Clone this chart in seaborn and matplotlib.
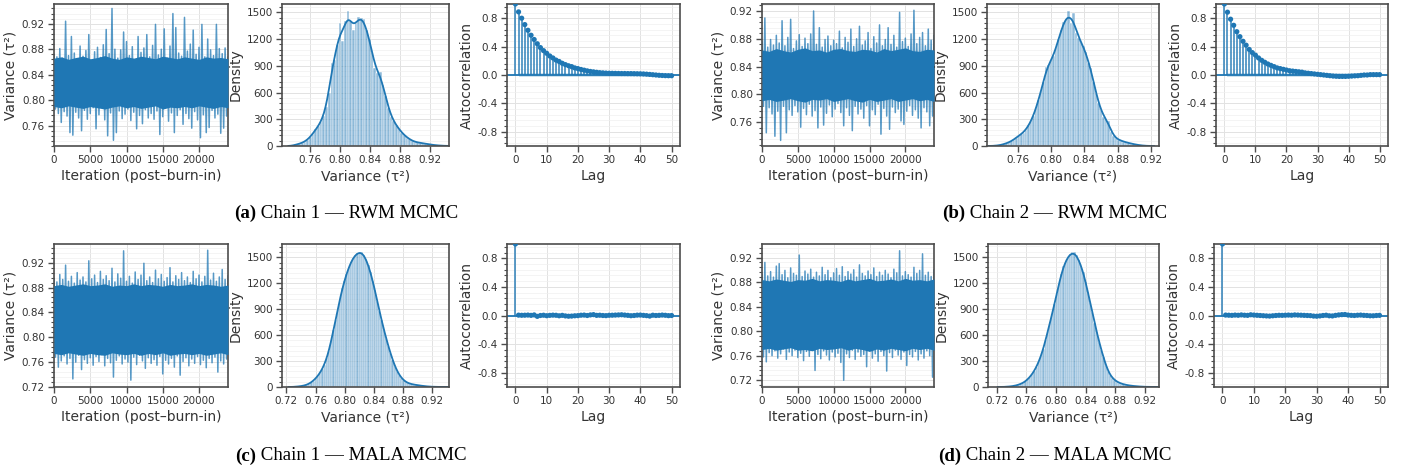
import numpy as np
import pandas as pd
import matplotlib
matplotlib.use("Agg")
import matplotlib.pyplot as plt
from matplotlib.ticker import MultipleLocator, AutoMinorLocator, FormatStrFormatter
import seaborn as sns

# ---------------- data ----------------
iter_step = 200
n_iter = 24000
core_step = 1000

trace_a = [0.872,0.786,0.868,0.779,0.881,0.765,0.866,0.782,0.924,0.775,
           0.870,0.749,0.900,0.745,0.874,0.781,0.864,0.772,0.885,0.752,
           0.869,0.784,0.878,0.770,0.903,0.779,0.861,0.788,0.876,0.755,
           0.883,0.777,0.867,0.790,0.887,0.769,0.911,0.744,0.873,0.780,
           0.944,0.737,0.880,0.749,0.866,0.783,0.879,0.771,0.907,0.778,
           0.892,0.786,0.870,0.768,0.884,0.781,0.863,0.755,0.900,0.776,
           0.875,0.763,0.882,0.785,0.903,0.772,0.868,0.779,0.886,0.770,
           0.919,0.783,0.871,0.746,0.880,0.774,0.912,0.788,0.866,0.767,
           0.885,0.780,0.936,0.749,0.914,0.776,0.874,0.785,0.869,0.762,
           0.930,0.779,0.877,0.771,0.888,0.756,0.910,0.782,0.872,0.769,
           0.883,0.741,0.919,0.777,0.868,0.749,0.896,0.757,0.879,0.784,
           0.870,0.772,0.919,0.778,0.881,0.748,0.873,0.756,0.882,0.775,
           0.868]
trace_b = [0.876,0.783,0.910,0.745,0.868,0.781,0.879,0.772,0.871,0.740,
           0.885,0.776,0.874,0.734,0.906,0.783,0.870,0.745,0.882,0.778,
           0.908,0.770,0.866,0.784,0.877,0.775,0.886,0.753,0.869,0.780,
           0.881,0.771,0.873,0.786,0.887,0.769,0.920,0.777,0.872,0.752,
           0.896,0.782,0.868,0.756,0.879,0.773,0.884,0.785,0.870,0.768,
           0.878,0.779,0.873,0.787,0.891,0.774,0.867,0.755,0.882,0.781,
           0.875,0.770,0.894,0.748,0.869,0.783,0.880,0.772,0.898,0.779,
           0.871,0.766,0.877,0.784,0.889,0.755,0.866,0.778,0.883,0.771,
           0.874,0.786,0.900,0.743,0.870,0.780,0.879,0.769,0.896,0.750,
           0.872,0.782,0.885,0.774,0.868,0.779,0.918,0.762,0.876,0.757,
           0.881,0.776,0.869,0.784,0.887,0.770,0.921,0.778,0.873,0.766,
           0.882,0.752,0.889,0.781,0.870,0.775,0.894,0.755,0.878,0.769,
           0.885]
trace_c = [0.895,0.768,0.889,0.752,0.901,0.762,0.893,0.770,0.916,0.757,
           0.890,0.766,0.898,0.733,0.887,0.760,0.904,0.771,0.892,0.748,
           0.897,0.764,0.889,0.758,0.923,0.767,0.894,0.755,0.900,0.769,
           0.888,0.761,0.906,0.772,0.893,0.754,0.899,0.766,0.891,0.759,
           0.911,0.736,0.889,0.763,0.902,0.770,0.895,0.757,0.939,0.765,
           0.890,0.760,0.898,0.731,0.887,0.768,0.905,0.756,0.893,0.771,
           0.900,0.762,0.919,0.750,0.891,0.767,0.897,0.758,0.888,0.764,
           0.908,0.755,0.894,0.769,0.901,0.741,0.890,0.763,0.896,0.757,
           0.912,0.766,0.889,0.752,0.899,0.770,0.893,0.739,0.904,0.761,
           0.891,0.767,0.897,0.754,0.888,0.765,0.906,0.758,0.894,0.769,
           0.900,0.756,0.889,0.763,0.898,0.751,0.940,0.766,0.892,0.759,
           0.903,0.768,0.890,0.744,0.897,0.762,0.909,0.757,0.893,0.765,
           0.899]
trace_d = [0.893,0.758,0.912,0.750,0.890,0.765,0.897,0.760,0.888,0.768,
           0.906,0.756,0.910,0.763,0.892,0.771,0.899,0.754,0.887,0.766,
           0.903,0.760,0.894,0.769,0.891,0.757,0.924,0.764,0.889,0.752,
           0.898,0.767,0.893,0.759,0.901,0.770,0.888,0.736,0.896,0.762,
           0.890,0.755,0.904,0.768,0.892,0.761,0.899,0.753,0.887,0.766,
           0.895,0.758,0.902,0.764,0.891,0.749,0.905,0.720,0.889,0.763,
           0.897,0.757,0.893,0.769,0.900,0.754,0.888,0.766,0.908,0.759,
           0.894,0.762,0.890,0.742,0.898,0.768,0.892,0.756,0.903,0.763,
           0.889,0.751,0.896,0.767,0.891,0.760,0.899,0.735,0.893,0.765,
           0.887,0.757,0.901,0.769,0.895,0.761,0.931,0.754,0.890,0.766,
           0.897,0.744,0.892,0.762,0.888,0.758,0.904,0.767,0.894,0.753,
           0.899,0.763,0.926,0.756,0.891,0.768,0.896,0.760,0.889,0.725,
           0.900]

# dense central band of each trace (read every 1000 iterations)
core_a_hi = [0.866,0.868,0.864,0.867,0.869,0.865,0.867,0.870,0.866,0.864,0.868,0.866,0.869,
             0.867,0.865,0.869,0.867,0.865,0.868,0.866,0.864,0.868,0.866,0.867,0.865]
core_a_lo = [0.790,0.788,0.791,0.789,0.787,0.790,0.788,0.786,0.789,0.791,0.788,0.790,0.787,
             0.789,0.791,0.786,0.789,0.788,0.790,0.788,0.791,0.789,0.787,0.790,0.788]
core_b_hi = [0.864,0.862,0.866,0.863,0.861,0.865,0.867,0.863,0.864,0.861,0.865,0.866,0.863,
             0.862,0.865,0.864,0.861,0.866,0.863,0.865,0.867,0.863,0.862,0.865,0.864]
core_b_lo = [0.791,0.793,0.790,0.792,0.794,0.791,0.789,0.793,0.792,0.794,0.790,0.792,0.794,
             0.791,0.789,0.793,0.790,0.792,0.794,0.790,0.792,0.794,0.791,0.793,0.790]
core_c_hi = [0.883,0.885,0.882,0.884,0.886,0.883,0.884,0.886,0.882,0.884,0.883,0.886,0.883,
             0.885,0.884,0.882,0.885,0.883,0.884,0.886,0.883,0.885,0.884,0.882,0.884]
core_c_lo = [0.774,0.772,0.775,0.773,0.771,0.774,0.772,0.771,0.775,0.773,0.772,0.774,0.771,
             0.774,0.772,0.775,0.771,0.773,0.774,0.772,0.774,0.771,0.773,0.775,0.772]
core_d_hi = [0.884,0.882,0.885,0.883,0.881,0.884,0.883,0.886,0.882,0.884,0.883,0.881,0.885,
             0.882,0.884,0.886,0.882,0.883,0.885,0.882,0.886,0.883,0.884,0.882,0.885]
core_d_lo = [0.770,0.772,0.769,0.771,0.773,0.769,0.770,0.768,0.772,0.770,0.771,0.773,0.769,
             0.772,0.770,0.767,0.771,0.769,0.772,0.770,0.768,0.772,0.770,0.772,0.769]

# histogram bin ranges (lo, hi) and counts
hist_a_range = (0.7375, 0.94456)
hist_a_counts = [10,18,25,35,50,70,100,140,190,220,
                 270,340,440,600,930,960,1130,1380,1180,1400,
                 1520,1400,1300,1380,1450,1440,1420,1300,1200,1060,
                 870,820,830,680,560,430,330,280,230,190,
                 150,120,95,75,55,45,40,35,30,25,
                 20,15,10,8,5,3,2,1]
hist_b_range = (0.7295, 0.9185)
hist_b_counts = [2,4,7,12,20,30,40,52,70,95,
                 115,135,150,185,230,280,340,430,520,620,
                 720,890,910,960,1010,1100,1200,1300,1390,1430,
                 1520,1380,1490,1270,1210,1170,1120,1050,930,880,
                 720,600,480,400,330,300,280,160,110,85,
                 70,60,50,42,35,28,22,16,11,7,
                 4,2,1]
hist_c_range = (0.729, 0.939)
hist_c_counts = [2,4,6,9,13,18,26,38,55,75,
                 100,130,165,210,260,330,415,530,655,780,
                 905,1020,1140,1230,1310,1385,1450,1495,1530,1550,
                 1565,1560,1530,1480,1410,1325,1230,1120,1000,880,
                 770,670,570,480,395,315,245,185,140,105,
                 78,58,45,37,31,27,23,19,15,12,
                 9,6,4,3,2,1,1,1,0,1]
hist_d_range = (0.7275, 0.9375)
hist_d_counts = [1,2,4,6,9,13,19,27,36,48,
                 65,88,115,150,185,235,295,355,440,540,
                 645,745,845,960,1075,1190,1300,1390,1455,1500,
                 1535,1550,1550,1515,1465,1395,1320,1210,1095,975,
                 860,740,630,520,430,340,255,180,135,100,
                 78,62,48,38,31,25,20,16,13,10,
                 8,6,4,3,2,1,1,1,0,1]

acf_a = [1.0,0.889,0.80,0.71,0.63,0.56,0.50,0.44,0.386,0.343,
         0.306,0.268,0.24,0.21,0.19,0.165,0.146,0.13,0.118,0.10,
         0.09,0.078,0.068,0.058,0.05,0.044,0.038,0.033,0.03,0.027,
         0.025,0.024,0.023,0.022,0.021,0.021,0.02,0.02,0.019,0.018,
         0.017,0.015,0.012,0.008,0.004,0.0,-0.004,-0.007,-0.009,-0.01,
         -0.01]
acf_b = [1.0,0.885,0.786,0.70,0.61,0.54,0.475,0.42,0.36,0.315,
         0.28,0.24,0.207,0.18,0.155,0.136,0.118,0.10,0.09,0.08,
         0.07,0.06,0.055,0.05,0.045,0.04,0.03,0.025,0.02,0.015,
         0.01,0.005,0.0,-0.005,-0.01,-0.015,-0.018,-0.02,-0.02,-0.02,
         -0.018,-0.015,-0.012,-0.01,-0.005,0.0,0.0,0.005,0.005,0.005,
         0.005]
acf_c = [1.0,0.005,0.003,0.004,0.006,0.002,0.008,-0.012,0.0,0.004,
         -0.003,0.002,0.005,0.003,-0.004,0.002,-0.006,-0.01,-0.008,-0.004,
         -0.002,0.004,0.006,0.0,0.008,0.012,0.002,0.004,0.0,-0.002,
         0.003,0.004,0.006,0.008,0.01,0.006,0.002,-0.003,0.0,0.005,
         0.006,0.002,-0.002,-0.008,0.004,0.0,0.002,0.006,0.003,-0.002,
         0.0]
acf_d = [1.0,0.006,0.004,0.002,0.006,0.003,0.008,0.004,0.002,0.01,
         0.006,0.003,0.0,-0.003,-0.006,-0.008,-0.004,0.0,0.003,0.002,
         0.004,0.006,0.004,0.008,0.006,0.004,0.002,0.0,-0.002,-0.008,
         -0.01,-0.006,0.0,0.004,-0.004,-0.006,0.002,0.008,0.012,0.014,
         0.006,0.002,0.0,0.004,0.006,0.002,0.0,-0.004,-0.004,0.0,
         0.002]
acf_conf = {"a": 0.035, "b": 0.035, "c": 0.013, "d": 0.013}

captions = {"a": ("(a)", "Chain 1 \u2014 RWM MCMC"),
            "b": ("(b)", "Chain 2 \u2014 RWM MCMC"),
            "c": ("(c)", "Chain 1 \u2014 MALA MCMC"),
            "d": ("(d)", "Chain 2 \u2014 MALA MCMC")}

# ---------------- style ----------------
sns.set_theme(style="ticks")
plt.rcParams["font.family"] = ["DejaVu Sans"]
BLUE = "#1f77b4"
SPINE = "#4d4d4d"
TXT = "#333333"

W, H = 1411, 472
fig = plt.figure(figsize=(W / 100, H / 100), dpi=100)
fig.patch.set_facecolor("white")


def add_ax(x0, x1, y0, y1):
    return fig.add_axes([x0 / W, 1 - y1 / H, (x1 - x0) / W, (y1 - y0) / H])


def style(ax):
    for s in ax.spines.values():
        s.set_color(SPINE)
        s.set_linewidth(1.2)
        s.set_visible(True)
    ax.yaxis.set_minor_locator(AutoMinorLocator(5))
    ax.grid(True, which="major", color="#e2e2e2", lw=0.7)
    ax.grid(True, which="minor", axis="y", color="#f0f0f0", lw=0.5)
    ax.set_axisbelow(True)
    ax.tick_params(which="major", direction="out", length=4, width=1,
                   color=SPINE, labelcolor=TXT, labelsize=7.5, pad=2.5)
    ax.tick_params(which="minor", direction="out", length=2.3, width=0.8, color=SPINE)
    ax.tick_params(axis="x", which="minor", length=0)


def label(ax, xl, yl):
    ax.set_xlabel(xl, fontsize=10, color=TXT, labelpad=3)
    ax.set_ylabel(yl, fontsize=10, color=TXT, labelpad=3)


def draw_trace(ax, vals, lo, hi, ylim):
    x = np.arange(0, n_iter + 1, iter_step)
    xc = np.arange(0, n_iter + 1, core_step)
    df = pd.DataFrame({"it": x, "v": vals})
    sns.lineplot(data=df, x="it", y="v", ax=ax, color=BLUE, lw=1.1, alpha=0.75,
                 estimator=None, zorder=2)
    ax.fill_between(xc, lo, hi, color=BLUE, lw=0, zorder=3)
    ax.set_xlim(0, n_iter)
    ax.set_ylim(*ylim)
    ax.xaxis.set_major_locator(MultipleLocator(5000))
    ax.yaxis.set_major_locator(MultipleLocator(0.04))
    ax.yaxis.set_major_formatter(FormatStrFormatter("%.2f"))
    style(ax)
    label(ax, "Iteration (post\u2013burn-in)", "Variance (\u03c4\u00b2)")


def draw_hist(ax, rng, counts, xlim, ylim):
    n = len(counts)
    edges = np.linspace(rng[0], rng[1], n + 1)
    centers = 0.5 * (edges[:-1] + edges[1:])
    df = pd.DataFrame({"v": centers, "w": np.asarray(counts, dtype=float)})
    sns.histplot(data=df, x="v", weights="w", bins=n, binrange=rng, kde=True, ax=ax,
                 color=BLUE, alpha=0.5, edgecolor="white", linewidth=0.35,
                 kde_kws={"bw_adjust": 0.3, "cut": 1},
                 line_kws={"linewidth": 1.3})
    ax.set_xlim(*xlim)
    ax.set_ylim(*ylim)
    ax.xaxis.set_major_locator(MultipleLocator(0.04))
    ax.xaxis.set_major_formatter(FormatStrFormatter("%.2f"))
    ax.yaxis.set_major_locator(MultipleLocator(300))
    style(ax)
    label(ax, "Variance (\u03c4\u00b2)", "Density")


def draw_acf(ax, acf, conf):
    lags = np.arange(len(acf))
    ax.fill_between(lags[1:], -conf, conf, color=BLUE, alpha=0.22, lw=0, zorder=1)
    ax.vlines(lags, 0, acf, color=BLUE, lw=1.2, alpha=0.85, zorder=2)
    df = pd.DataFrame({"lag": lags, "r": acf})
    sns.scatterplot(data=df, x="lag", y="r", ax=ax, s=14, color=BLUE, edgecolor="none",
                    zorder=3, legend=False)
    ax.axhline(0, color=BLUE, lw=1.3, zorder=2)
    ax.set_xlim(-2.7, 52.7)
    ax.set_ylim(-1.0, 1.0)
    ax.xaxis.set_major_locator(MultipleLocator(10))
    ax.yaxis.set_major_locator(MultipleLocator(0.4))
    ax.yaxis.set_major_formatter(FormatStrFormatter("%.1f"))
    style(ax)
    label(ax, "Lag", "Autocorrelation")


R1 = (4, 146)
R2 = (244, 387)

ax = add_ax(54, 228, *R1); draw_trace(ax, trace_a, core_a_lo, core_a_hi, (0.728, 0.951))
ax = add_ax(282, 449, *R1); draw_hist(ax, hist_a_range, hist_a_counts, (0.723, 0.945), (0, 1593))
ax = add_ax(507, 680, *R1); draw_acf(ax, acf_a, acf_conf["a"])

ax = add_ax(762, 934, *R1); draw_trace(ax, trace_b, core_b_lo, core_b_hi, (0.726, 0.930))
ax = add_ax(987, 1159, *R1); draw_hist(ax, hist_b_range, hist_b_counts, (0.7227, 0.930), (0, 1593))
ax = add_ax(1216, 1388, *R1); draw_acf(ax, acf_b, acf_conf["b"])

ax = add_ax(54, 228, *R2); draw_trace(ax, trace_c, core_c_lo, core_c_hi, (0.720, 0.950))
ax = add_ax(282, 449, *R2); draw_hist(ax, hist_c_range, hist_c_counts, (0.714, 0.943), (0, 1654))
ax = add_ax(507, 680, *R2); draw_acf(ax, acf_c, acf_conf["c"])

ax = add_ax(762, 934, *R2); draw_trace(ax, trace_d, core_d_lo, core_d_hi, (0.709, 0.942))
ax = add_ax(988, 1159, *R2); draw_hist(ax, hist_d_range, hist_d_counts, (0.7083, 0.9389), (0, 1647))
ax = add_ax(1214, 1388, *R2); draw_acf(ax, acf_d, acf_conf["d"])


def caption(key, x_split, y):
    tag, rest = captions[key]
    fig.text(x_split / W, 1 - y / H, tag, fontfamily="Liberation Serif",
             fontweight="bold", fontsize=13.6, ha="right", va="center", color="black")
    fig.text(x_split / W, 1 - y / H, " " + rest, fontfamily="Liberation Serif",
             fontsize=13.6, ha="left", va="center", color="black")


caption("a", 256, 213)
caption("b", 965, 213)
caption("c", 256, 456)
caption("d", 961, 456)

fig.savefig("out.png", dpi=100, facecolor="white")
